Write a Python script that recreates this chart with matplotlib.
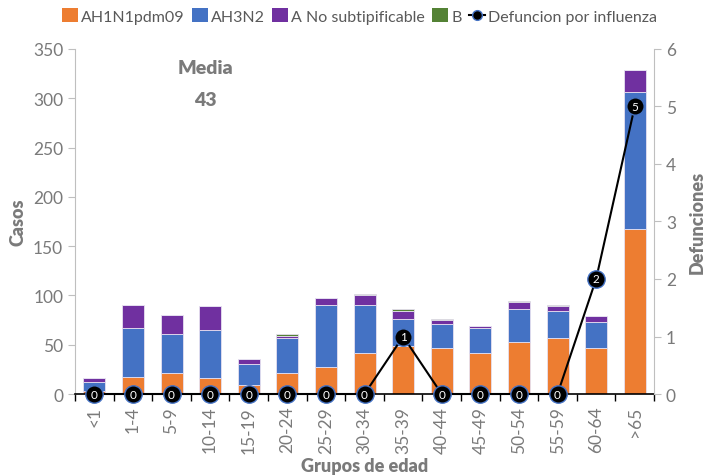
import matplotlib
matplotlib.use("Agg")
import matplotlib.pyplot as plt
from matplotlib.patches import Patch
from matplotlib.lines import Line2D
import numpy as np

plt.rcParams['font.family'] = ['Lato', 'DejaVu Sans']

categories = ["<1", "1-4", "5-9", "10-14", "15-19", "20-24", "25-29", "30-34",
              "35-39", "40-44", "45-49", "50-54", "55-59", "60-64", ">65"]
ah1n1 = [3, 17, 21, 16, 9, 21, 27, 42, 49, 47, 42, 53, 57, 47, 167]
ah3n2 = [9, 50, 40, 49, 21, 36, 63, 48, 27, 24, 25, 33, 27, 26, 139]
a_nosub = [4, 23, 19, 24, 6, 2, 7, 10, 8, 4, 2, 7, 5, 6, 23]
b_vals = [0, 0, 0, 0, 0, 2, 0, 1, 2, 1, 0, 1, 1, 0, 0]
deaths = [0, 0, 0, 0, 0, 0, 0, 0, 1, 0, 0, 0, 0, 2, 5]

series_names = ["AH1N1pdm09", "AH3N2", "A No subtipificable", "B"]
colors = ["#ED7D31", "#4472C4", "#7030A0", "#548235"]
gray = "#7a7a7a"
tickgray = "#7a7a7a"

fig = plt.figure(figsize=(7.05, 4.77), dpi=100)
ax = fig.add_axes([0.1064, 0.1719, 0.8213, 0.7233])
x = np.arange(len(categories))
bottom = np.zeros(len(categories))
for vals, c in zip([ah1n1, ah3n2, a_nosub, b_vals], colors):
    ax.bar(x, vals, width=0.57, bottom=bottom, color=c, edgecolor="#e6e0f0", linewidth=0.6)
    bottom += np.array(vals)

ax.set_xlim(-0.5, len(categories) - 0.5)
ax.set_ylim(0, 350)
ax.set_yticks(range(0, 351, 50))
ax.set_xticks(x)
ax.set_xticklabels(categories, rotation=90, color=tickgray, fontsize=12.5)
ax.set_xticks(np.arange(-0.5, len(categories), 1), minor=True)
ax.tick_params(axis='x', which='major', length=0, pad=8.5)
ax.tick_params(axis='x', which='minor', length=5, color='black', width=1)
ax.tick_params(axis='y', colors=tickgray, labelsize=12.5, length=5, color='#bfbfbf')
ax.spines['top'].set_visible(False)
ax.spines['left'].set_color('#bfbfbf')
ax.spines['right'].set_visible(False)
ax.spines['bottom'].set_color('black')
ax.spines['bottom'].set_linewidth(1.2)
ax.set_ylabel("Casos", fontsize=13, fontweight='heavy', color=gray, va='center')
ax.yaxis.set_label_coords((18 - 75) / 579, 0.5)
ax.set_xlabel("Grupos de edad", fontsize=13, fontweight='heavy', color=gray, va='center')
ax.xaxis.set_label_coords(0.5, (395 - 466) / 345)

ax2 = ax.twinx()
ax2.set_ylim(0, 6)
ax2.set_yticks(range(0, 7))
ax2.tick_params(axis='y', colors=tickgray, labelsize=12.5, length=5, color='#bfbfbf')
for s in ['top', 'left', 'bottom']:
    ax2.spines[s].set_visible(False)
ax2.spines['right'].set_color('#bfbfbf')
ax2.set_ylabel("Defunciones", fontsize=13, fontweight='heavy', color=gray, va='center')
ax2.yaxis.set_label_coords((697 - 75) / 579, 0.5)
ax2.plot(x, deaths, color='black', lw=1.5, marker='o', markersize=12.5,
         markerfacecolor='black', markeredgecolor='#4472C4', markeredgewidth=1,
         clip_on=False, zorder=5)
for xi, d in zip(x, deaths):
    ax2.text(xi, d, str(d), color='white', fontsize=8.5, ha='center', va='center',
             zorder=6, clip_on=False)

fig.text(205 / 705, 1 - 68 / 477, "Media", fontsize=14, fontweight='heavy', color=gray,
         ha='center', va='center')
fig.text(205 / 705, 1 - 100 / 477, "43", fontsize=14, fontweight='heavy', color=gray,
         ha='center', va='center')

handles = [Patch(facecolor=c, label=n) for c, n in zip(colors, series_names)]
handles.append(Line2D([0], [0], color='black', lw=1.5, marker='o', markersize=7,
                      markerfacecolor='black', markeredgecolor='#4472C4',
                      label="Defuncion por influenza"))
fig.legend(handles=handles, loc='center', bbox_to_anchor=(0.51, 1 - 17 / 477), ncol=5,
           frameon=False, fontsize=11.5, handlelength=1.0, handleheight=0.9,
           handletextpad=0.2, columnspacing=0.45, labelcolor='#595959')

fig.savefig("out.png", dpi=100)
